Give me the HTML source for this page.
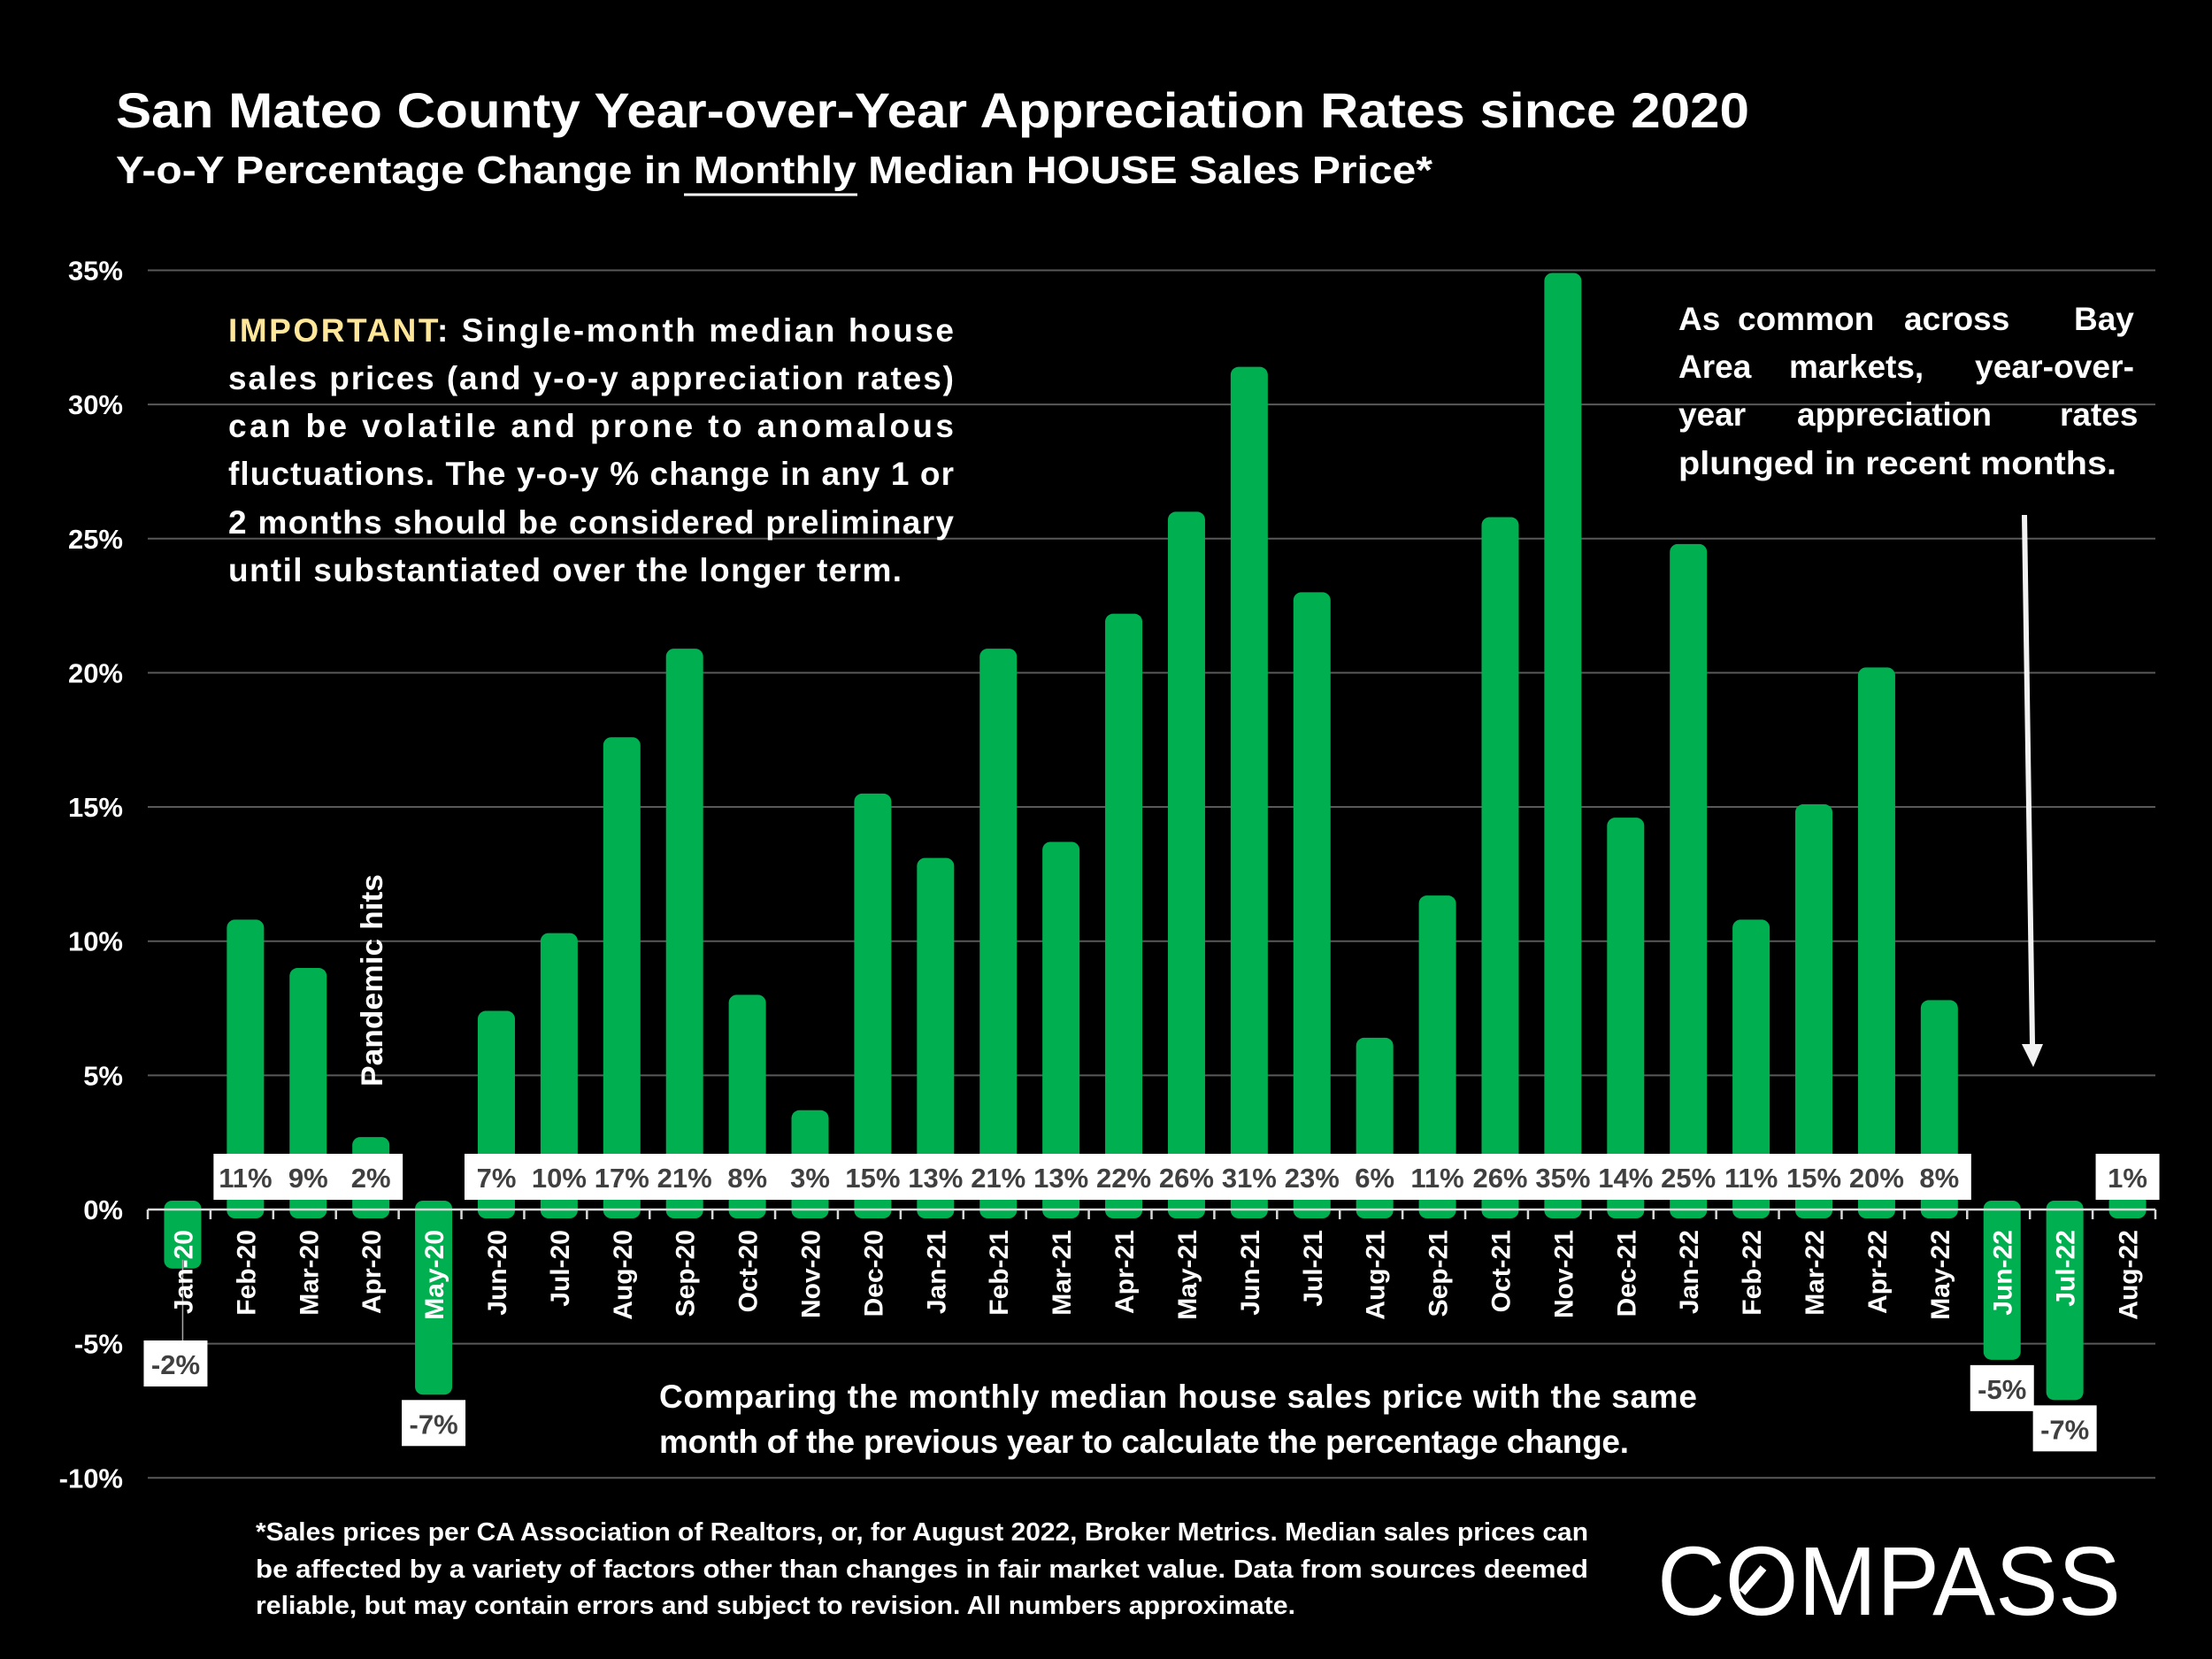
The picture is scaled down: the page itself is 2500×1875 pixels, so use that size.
<!DOCTYPE html>
<html><head><meta charset="utf-8">
<style>
html,body{margin:0;padding:0;background:#000;}
svg{display:block;font-family:"Liberation Sans",sans-serif;}
</style></head>
<body>
<svg id="chart" width="2500" height="1875" viewBox="0 0 2500 1875" xmlns="http://www.w3.org/2000/svg">
<rect width="2500" height="1875" fill="#000"/>
<text x="131" y="144" fill="#fff" font-weight="bold" font-size="56" textLength="1846" lengthAdjust="spacingAndGlyphs">San Mateo County Year-over-Year Appreciation Rates since 2020</text>
<text x="131" y="207" fill="#fff" font-weight="bold" font-size="44" textLength="1488" lengthAdjust="spacingAndGlyphs">Y-o-Y Percentage Change in Monthly Median HOUSE Sales Price*</text>
<line x1="773" y1="220" x2="969" y2="220" stroke="#fff" stroke-width="3"/>
<g id="grid"></g>
<g id="yticks"></g>
<g id="bars"></g>
<g id="axis"></g>
<g id="labels"></g>
<g id="months"></g>

<text transform="translate(432,1228) rotate(-90)" fill="#fff" font-weight="bold" font-size="34" textLength="240" lengthAdjust="spacingAndGlyphs">Pandemic hits</text>

<g fill="#fff" font-weight="bold" font-size="37">
<text x="258" y="386" textLength="820" lengthAdjust="spacing"><tspan fill="#FFE699">IMPORTANT</tspan>: Single-month median house</text>
<text x="258" y="440" textLength="820" lengthAdjust="spacing">sales prices (and y-o-y appreciation rates)</text>
<text x="258" y="494" textLength="820" lengthAdjust="spacing">can be volatile and prone to anomalous</text>
<text x="258" y="548" textLength="820" lengthAdjust="spacing">fluctuations. The y-o-y % change in any 1 or</text>
<text x="258" y="603" textLength="820" lengthAdjust="spacing">2 months should be considered preliminary</text>
<text x="258" y="657" textLength="761" lengthAdjust="spacing">until substantiated over the longer term.</text>
</g>

<g fill="#fff" font-weight="bold" font-size="37">
<text y="373"><tspan x="1897">As</tspan><tspan x="1964">common</tspan><tspan x="2152">across</tspan><tspan x="2344">Bay</tspan></text>
<text y="427"><tspan x="1897">Area</tspan><tspan x="2022">markets,</tspan><tspan x="2232" textLength="180" lengthAdjust="spacingAndGlyphs">year-over-</tspan></text>
<text y="481"><tspan x="1897">year</tspan><tspan x="2031">appreciation</tspan><tspan x="2328">rates</tspan></text>
<text x="1897" y="536" textLength="495" lengthAdjust="spacingAndGlyphs">plunged in recent months.</text>
</g>
<g>
<line x1="2288" y1="582" x2="2297" y2="1180" stroke="#f2f2f2" stroke-width="6"/>
<polygon points="2285,1180 2309,1180 2298,1206" fill="#f2f2f2"/>
</g>

<g fill="#fff" font-weight="bold" font-size="37">
<text x="745" y="1591" textLength="1173" lengthAdjust="spacing">Comparing the monthly median house sales price with the same</text>
<text x="745" y="1642" textLength="1096" lengthAdjust="spacing">month of the previous year to calculate the percentage change.</text>
</g>

<g fill="#fff" font-weight="bold" font-size="29">
<text x="289" y="1741" textLength="1506" lengthAdjust="spacingAndGlyphs">*Sales prices per CA Association of Realtors, or, for August 2022, Broker Metrics. Median sales prices can</text>
<text x="289" y="1783" textLength="1506" lengthAdjust="spacingAndGlyphs">be affected by a variety of factors other than changes in fair market value. Data from sources deemed</text>
<text x="289" y="1824" textLength="1175" lengthAdjust="spacingAndGlyphs">reliable, but may contain errors and subject to revision. All numbers approximate.</text>
</g>

<g>
<text x="1873" y="1825" fill="#fff" font-size="110" textLength="524" lengthAdjust="spacingAndGlyphs">COMPASS</text>
<line x1="1969" y1="1800" x2="1993" y2="1772" stroke="#fff" stroke-width="9"/>
</g>

<script>
const months = ["Jan-20","Feb-20","Mar-20","Apr-20","May-20","Jun-20","Jul-20","Aug-20","Sep-20","Oct-20","Nov-20","Dec-20","Jan-21","Feb-21","Mar-21","Apr-21","May-21","Jun-21","Jul-21","Aug-21","Sep-21","Oct-21","Nov-21","Dec-21","Jan-22","Feb-22","Mar-22","Apr-22","May-22","Jun-22","Jul-22","Aug-22"];
const values = [-2.2,10.8,9.0,2.7,-6.9,7.4,10.3,17.6,20.9,8.0,3.7,15.5,13.1,20.9,13.7,22.2,26.0,31.4,23.0,6.4,11.7,25.8,34.9,14.6,24.8,10.8,15.1,20.2,7.8,-5.6,-7.1,0.6];
const valueLabels = ["-2%","11%","9%","2%","-7%","7%","10%","17%","21%","8%","3%","15%","13%","21%","13%","22%","26%","31%","23%","6%","11%","26%","35%","14%","25%","11%","15%","20%","8%","-5%","-7%","1%"];
const yTicks = [-10,-5,0,5,10,15,20,25,30,35];
const yTickLabels = ["-10%","-5%","0%","5%","10%","15%","20%","25%","30%","35%"];

const NS = "http://www.w3.org/2000/svg";
const plotL = 167, plotR = 2436, zeroY = 1367, perPct = 30.33;
const step = (plotR - plotL) / months.length;
const yS = v => zeroY - v * perPct;
const xC = i => plotL + 4 + step * (i + 0.5);
function mk(tag, attrs, parent){const e=document.createElementNS(NS,tag);for(const k in attrs)e.setAttribute(k,attrs[k]);parent.appendChild(e);return e;}

const grid = document.getElementById('grid'), yt = document.getElementById('yticks');
yTicks.forEach((t,i)=>{
  if(t!==0){
    const l = mk('line',{x1:plotL,x2:plotR,y1:yS(t),y2:yS(t),stroke:'#595959','stroke-width':2},grid);
    
    
  }
  const tx = mk('text',{x:139,y:yS(t)+11,fill:'#fff','font-size':31,'font-weight':'bold','text-anchor':'end'},yt);
  tx.textContent = yTickLabels[i];
  
  
});

const bars = document.getElementById('bars');
values.forEach((v,i)=>{
  const bw = 42, top = Math.min(yS(v), zeroY-10), bot = Math.max(yS(v), zeroY+10);
  const r = mk('rect',{x:xC(i)-bw/2,y:top,width:bw,height:bot-top,rx:9,fill:'#00B050'},bars);
  
  
});

const axis = document.getElementById('axis');
const al = mk('line',{x1:plotL,x2:plotR,y1:zeroY,y2:zeroY,stroke:'#d9d9d9','stroke-width':2.5},axis);


for(let i=0;i<=months.length;i++){
  const tk = mk('line',{x1:plotL+step*i,x2:plotL+step*i,y1:zeroY,y2:zeroY+11,stroke:'#d9d9d9','stroke-width':2.5},axis);
  
  
}

const ml = document.getElementById('months');
months.forEach((m,i)=>{
  const t = mk('text',{transform:`translate(${xC(i)+11},1390) rotate(-90)`,fill:'#fff','font-size':30,'font-weight':'bold','text-anchor':'end'},ml);
  t.textContent = m;
  
  
});

const lb = document.getElementById('labels');
values.forEach((v,i)=>{
  const w=64,h=52;
  let top;
  if(v>=0){ top = 1304; }
  else { top = Math.max(yS(v)+6, 1515); }
  const g = mk('g',{},lb);
  
  
  if(v<0 && top > yS(v)+20){ mk('line',{x1:xC(i),x2:xC(i),y1:yS(v)-10,y2:top,stroke:'#a6a6a6','stroke-width':1.5},g); }
  const cx = (v<0 && i===0) ? xC(i)-8 : xC(i);
  mk('rect',{x:cx-w/2-4,y:top,width:w+8,height:h,fill:'#fff'},g);
  const t = mk('text',{x:cx,y:top+38,fill:'#404040','font-size':31,'font-weight':'bold','text-anchor':'middle'},g);
  t.textContent = valueLabels[i];
});
</script>
</svg>
</body></html>
